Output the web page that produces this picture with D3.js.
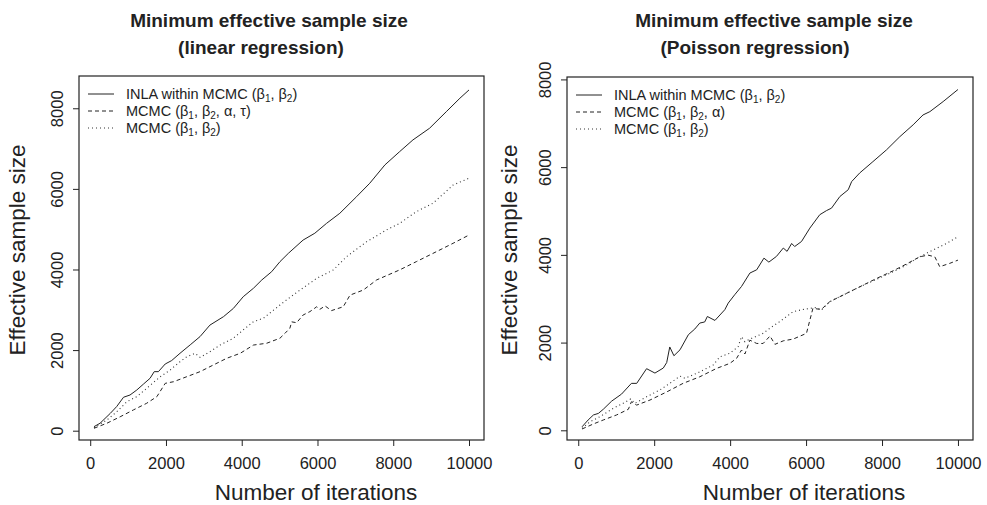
<!DOCTYPE html>
<html>
<head>
<meta charset="utf-8">
<script src="https://cdn.jsdelivr.net/npm/d3@7"></script>
<style>
  body { margin: 0; background: #fff; }
  svg { display: block; font-family: "Liberation Sans", Arial, Helvetica, sans-serif; }
  .tick line { stroke: #222; }
  .tick text { fill: #222; }
</style>
</head>
<body>
<svg id="chart" width="987" height="505"></svg>
<script>
// ---- data ----
const xTicks = [0, 2000, 4000, 6000, 8000, 10000];
const yTicks = [0, 2000, 4000, 6000, 8000];

// linear regression panel
const linIterInla = [100, 260, 530, 700, 880, 1050, 1230, 1410, 1580, 1690, 1800, 1980, 2150, 2370, 2640, 2900, 3160, 3520, 3780, 4040, 4310, 4530, 4790, 5010, 5230, 5620, 5930, 6240, 6590, 7030, 7380, 7780, 8170, 8520, 8960, 9400, 9760, 10000];
const linInla = [100, 185, 430, 600, 830, 885, 1010, 1160, 1300, 1465, 1465, 1655, 1740, 1920, 2130, 2335, 2620, 2830, 3035, 3325, 3535, 3740, 3945, 4195, 4400, 4730, 4900, 5145, 5395, 5805, 6140, 6595, 6925, 7215, 7505, 7915, 8250, 8455];

const linIterFull = [100, 440, 790, 1140, 1490, 1760, 1980, 2200, 2550, 2900, 3250, 3600, 3960, 4310, 4660, 5010, 5140, 5270, 5320, 5450, 5620, 5800, 5980, 6060, 6200, 6370, 6680, 6860, 7210, 7560, 8170, 8610, 9050, 9580, 10000];
const linFull = [60, 185, 345, 515, 680, 845, 1175, 1215, 1340, 1465, 1630, 1795, 1920, 2125, 2170, 2295, 2415, 2540, 2700, 2680, 2870, 2955, 3075, 3010, 3095, 2980, 3075, 3365, 3490, 3740, 3990, 4195, 4400, 4650, 4855];

const linIterBeta = [100, 440, 700, 970, 1230, 1490, 1850, 2110, 2370, 2550, 2770, 2900, 3160, 3430, 3780, 4040, 4310, 4570, 5010, 5190, 5540, 5980, 6420, 6770, 7300, 7820, 8170, 8610, 9050, 9580, 10000];
const linBeta = [75, 265, 470, 720, 845, 1050, 1340, 1505, 1710, 1835, 1920, 1820, 1960, 2125, 2295, 2500, 2705, 2790, 3120, 3250, 3490, 3780, 3990, 4320, 4690, 4980, 5145, 5435, 5645, 6095, 6265];

// poisson regression panel
const poiIterInla = [100, 260, 400, 530, 660, 880, 1140, 1400, 1540, 1800, 2020, 2240, 2330, 2410, 2520, 2680, 2900, 3070, 3200, 3330, 3400, 3600, 3860, 3950, 4120, 4300, 4520, 4700, 4890, 5020, 5220, 5400, 5500, 5620, 5700, 5880, 6100, 6360, 6540, 6670, 6890, 7110, 7200, 7410, 7760, 8120, 8470, 8820, 9080, 9260, 9610, 10000];
const poiInla = [80, 235, 350, 385, 480, 665, 825, 1070, 1070, 1405, 1305, 1420, 1545, 1900, 1700, 1835, 2180, 2310, 2445, 2470, 2595, 2505, 2750, 2900, 3090, 3280, 3585, 3660, 3925, 3835, 3965, 4155, 4080, 4260, 4190, 4305, 4610, 4915, 5010, 5065, 5330, 5485, 5670, 5865, 6125, 6395, 6695, 6965, 7190, 7265, 7495, 7770];

const poiIterFull = [100, 400, 660, 1010, 1320, 1400, 1540, 1890, 2330, 2760, 3200, 3640, 3990, 4170, 4300, 4390, 4520, 4700, 4870, 5050, 5180, 5400, 5660, 6010, 6180, 6400, 6620, 7060, 7410, 7850, 8290, 8640, 8990, 9210, 9390, 9520, 9780, 10000];
const poiFull = [30, 145, 235, 350, 480, 650, 575, 690, 875, 1070, 1220, 1410, 1525, 1640, 1830, 1740, 2055, 1980, 1980, 2150, 1960, 2040, 2080, 2210, 2780, 2755, 2930, 3120, 3270, 3460, 3635, 3790, 3955, 3995, 3955, 3730, 3805, 3880];

const poiIterBeta = [100, 310, 570, 920, 1180, 1380, 1490, 1800, 2150, 2410, 2680, 2810, 3120, 3550, 3730, 3990, 4210, 4300, 4390, 4560, 4870, 5050, 5310, 5660, 5920, 6270, 6400, 6620, 7060, 7410, 7850, 8290, 8640, 8990, 9340, 9700, 10000];
const poiBeta = [45, 195, 310, 500, 615, 715, 615, 765, 920, 1070, 1235, 1185, 1300, 1485, 1675, 1755, 1905, 2135, 2020, 2095, 2210, 2330, 2480, 2705, 2755, 2800, 2740, 2930, 3120, 3270, 3440, 3615, 3765, 3955, 4110, 4260, 4415];

const linLegend = ["INLA within MCMC (β_1, β_2)", "MCMC (β_1, β_2, α, τ)", "MCMC (β_1, β_2)"];
const poiLegend = ["INLA within MCMC (β_1, β_2)", "MCMC (β_1, β_2, α)", "MCMC (β_1, β_2)"];

const dashes = ["none", "4,3", "1,3"];

const svg = d3.select("#chart");
const ink = "#222";

function zip(xs, ys) {
  return xs.map((x, i) => ({ it: x, ess: ys[i] }));
}

// write a label with "_n" turned into subscripts
function richText(sel, str) {
  const parts = str.split(/(_\d)/).filter(p => p.length);
  let down = false;
  parts.forEach(p => {
    if (p[0] === "_") {
      sel.append("tspan").attr("font-size", "10px").attr("dy", 3).text(p.slice(1));
      down = true;
    } else {
      sel.append("tspan").attr("dy", down ? -3 : 0).text(p);
      down = false;
    }
  });
}

function drawPanel(cfg) {
  const x = d3.scaleLinear().domain([-296, 10396]).range([cfg.box.x0, cfg.box.x1]);
  const y = d3.scaleLinear().domain(cfg.yDomain).range([cfg.box.y1, cfg.box.y0]);

  // titles (two lines, bold)
  cfg.title.forEach((t, i) => {
    svg.append("text")
      .attr("x", cfg.titleX[i]).attr("y", cfg.titleY[i])
      .attr("text-anchor", "middle")
      .attr("font-size", "19px").attr("font-weight", "bold").attr("fill", ink)
      .text(t);
  });

  // x axis
  const gx = svg.append("g")
    .attr("transform", `translate(0,${cfg.box.y1})`)
    .call(d3.axisBottom(x).tickValues(xTicks).tickSize(6).tickSizeOuter(0).tickFormat(d3.format("d")));
  gx.select(".domain").remove();
  gx.selectAll(".tick text").attr("y", 29).attr("dy", 0).attr("font-size", "16.5px").attr("font-family", null);

  // y axis, labels rotated like R
  const gy = svg.append("g")
    .attr("transform", `translate(${cfg.box.x0},0)`)
    .call(d3.axisLeft(y).tickValues(yTicks).tickSize(6).tickSizeOuter(0).tickFormat(d3.format("d")));
  gy.select(".domain").remove();
  gy.selectAll(".tick text")
    .attr("x", 0).attr("dy", 0)
    .attr("transform", "translate(-16,0) rotate(-90)")
    .attr("text-anchor", "middle")
    .attr("font-size", "16.5px").attr("font-family", null);

  // frame
  svg.append("rect")
    .attr("x", cfg.box.x0).attr("y", cfg.box.y0)
    .attr("width", cfg.box.x1 - cfg.box.x0).attr("height", cfg.box.y1 - cfg.box.y0)
    .attr("fill", "none").attr("stroke", ink).attr("stroke-width", 1.2);

  // axis titles
  svg.append("text")
    .attr("x", cfg.xLabelX).attr("y", 500)
    .attr("text-anchor", "middle").attr("font-size", "22.5px").attr("fill", ink)
    .text("Number of iterations");
  svg.append("text")
    .attr("transform", `translate(${cfg.yLabelX},250) rotate(-90)`)
    .attr("text-anchor", "middle").attr("font-size", "22.5px").attr("fill", ink)
    .text("Effective sample size");

  // series
  const line = d3.line().x(d => x(d.it)).y(d => y(d.ess));
  cfg.series.forEach((s, i) => {
    svg.append("path")
      .datum(s)
      .attr("d", line)
      .attr("fill", "none")
      .attr("stroke", i === 2 ? "#333" : ink)
      .attr("stroke-width", i === 2 ? 1.1 : 1)
      .attr("stroke-dasharray", dashes[i]);
  });

  // legend
  const lg = svg.append("g").attr("transform", `translate(${cfg.box.x0 + 9},${cfg.box.y0 + 18})`);
  cfg.legend.forEach((lab, i) => {
    const row = lg.append("g").attr("transform", `translate(0,${i * 17})`);
    row.append("line")
      .attr("x1", 0).attr("x2", 26).attr("y1", 0).attr("y2", 0)
      .attr("stroke", i === 2 ? "#333" : ink).attr("stroke-width", 1)
      .attr("stroke-dasharray", dashes[i]);
    const t = row.append("text")
      .attr("x", 38).attr("y", 5)
      .attr("font-size", "14.5px").attr("fill", ink);
    richText(t, lab);
  });
}

drawPanel({
  box: { x0: 79, x1: 484, y0: 76, y1: 440 },
  yDomain: [-231, 8801],
  title: ["Minimum effective sample size", "(linear regression)"],
  titleX: [269, 261], titleY: [27, 54],
  xLabelX: 316, yLabelX: 25,
  legend: linLegend,
  series: [zip(linIterInla, linInla), zip(linIterFull, linFull), zip(linIterBeta, linBeta)]
});

drawPanel({
  box: { x0: 567, x1: 973, y0: 77, y1: 440 },
  yDomain: [-221, 8055],
  title: ["Minimum effective sample size", "(Poisson regression)"],
  titleX: [774, 755], titleY: [27, 54],
  xLabelX: 804, yLabelX: 517,
  legend: poiLegend,
  series: [zip(poiIterInla, poiInla), zip(poiIterFull, poiFull), zip(poiIterBeta, poiBeta)]
});
</script>
</body>
</html>
